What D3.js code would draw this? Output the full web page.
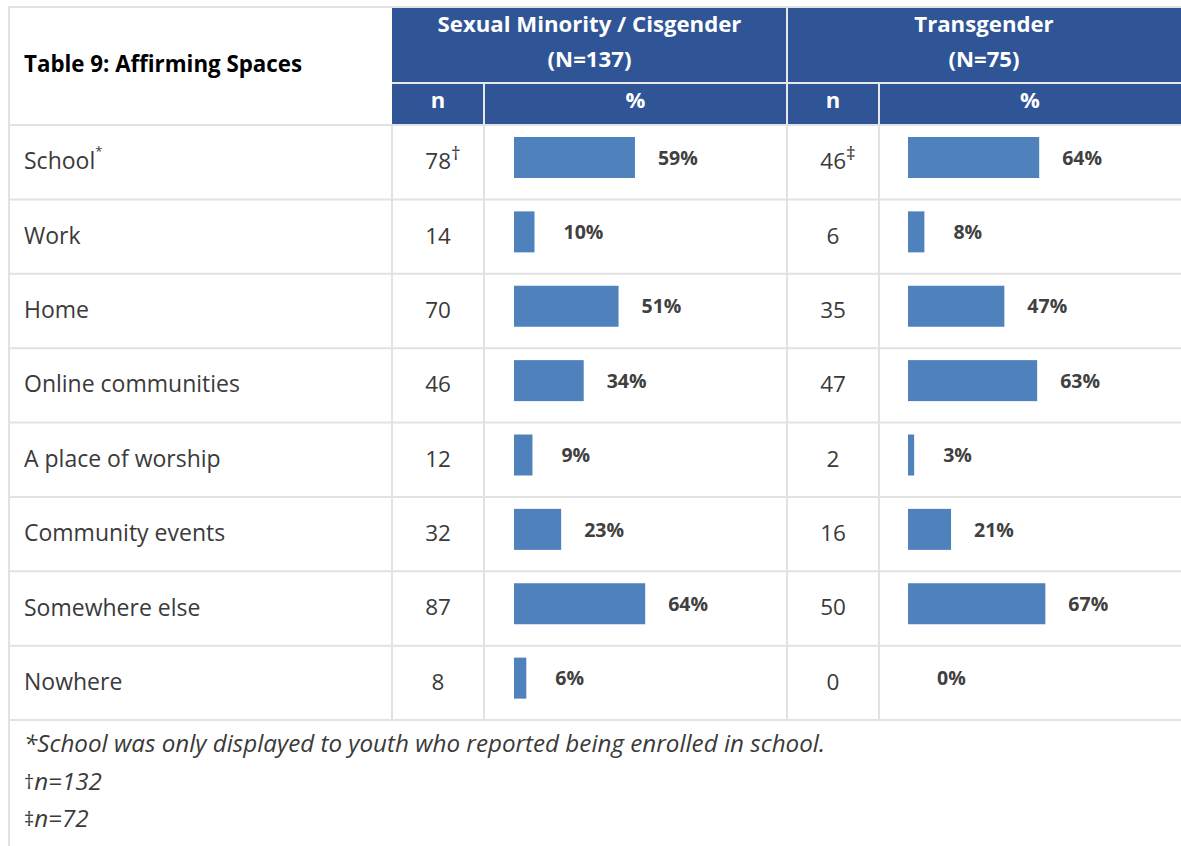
<!DOCTYPE html>
<html>
<head>
<meta charset="utf-8">
<script src="https://cdn.jsdelivr.net/npm/d3@7"></script>
<style>
  body { margin: 0; background: #fff; }
</style>
</head>
<body>
<div id="chart"></div>
<script>
// table values
const title = 'Table 9: Affirming Spaces';
const groups = ['Sexual Minority / Cisgender', 'Transgender'];
const groupN = ['(N=137)', '(N=75)'];
const spaces = ['School', 'Work', 'Home', 'Online communities', 'A place of worship', 'Community events', 'Somewhere else', 'Nowhere'];
const spaceMarks = ['*', '', '', '', '', '', '', ''];
const smN = [78, 14, 70, 46, 12, 32, 87, 8];
const smMarks = ['†', '', '', '', '', '', '', ''];
const smPct = [59, 10, 51, 34, 9, 23, 64, 6];
const tgN = [46, 6, 35, 47, 2, 16, 50, 0];
const tgMarks = ['‡', '', '', '', '', '', '', ''];
const tgPct = [64, 8, 47, 63, 3, 21, 67, 0];
const noteMarks = ['', '†', '‡'];
const notes = ['*School was only displayed to youth who reported being enrolled in school.', 'n=132', 'n=72'];

const W = 1181, H = 846;
const font = 'Open Sans';
const blue = '#2f5597';
const barBlue = '#4f81bd';
const grid = '#e2e2e2';
const textCol = '#3a3a3a';

// column edges
const cols = [9, 392, 484, 787, 879, 1181];
const topY = 8, head1 = 83, head2 = 125, bodyEnd = 720;

const svg = d3.select('#chart')
    .append('svg')
    .attr('width', W)
    .attr('height', H);

const y = d3.scaleBand()
    .domain(spaces)
    .range([head2, bodyEnd]);

const x = d3.scaleLinear()
    .domain([0, 100])
    .range([0, 205]);

// header cells
svg.append('rect')
    .attr('x', cols[1]).attr('y', topY)
    .attr('width', W - cols[1]).attr('height', head2 - topY)
    .attr('fill', blue);

// header separators
svg.append('line')
    .attr('x1', cols[1]).attr('x2', W)
    .attr('y1', head1).attr('y2', head1)
    .attr('stroke', '#e8e8e8').attr('stroke-width', 2);
[cols[3]].forEach(c => {
    svg.append('line')
        .attr('x1', c).attr('x2', c)
        .attr('y1', topY).attr('y2', head2)
        .attr('stroke', '#e8e8e8').attr('stroke-width', 2);
});
[cols[2], cols[4]].forEach(c => {
    svg.append('line')
        .attr('x1', c).attr('x2', c)
        .attr('y1', head1).attr('y2', head2)
        .attr('stroke', '#e8e8e8').attr('stroke-width', 2);
});

// grid lines
svg.append('line')
    .attr('x1', cols[0]).attr('x2', W)
    .attr('y1', topY - 1).attr('y2', topY - 1)
    .attr('stroke', grid).attr('stroke-width', 2);
svg.append('line')
    .attr('x1', cols[0]).attr('x2', cols[0])
    .attr('y1', topY - 2).attr('y2', H)
    .attr('stroke', grid).attr('stroke-width', 2);

const hLines = [head2].concat(spaces.map(d => y(d) + y.bandwidth()));
hLines.forEach(v => {
    svg.append('line')
        .attr('x1', cols[0]).attr('x2', W)
        .attr('y1', v).attr('y2', v)
        .attr('stroke', grid).attr('stroke-width', 2);
});
cols.slice(1, 5).forEach(c => {
    svg.append('line')
        .attr('x1', c).attr('x2', c)
        .attr('y1', head2).attr('y2', bodyEnd)
        .attr('stroke', grid).attr('stroke-width', 2);
});

// header texts
svg.append('text')
    .attr('x', 24)
    .attr('y', 66)
    .attr('dominant-baseline', 'middle')
    .attr('font-family', font)
    .attr('font-weight', 'bold')
    .attr('font-size', '22.3px')
    .attr('fill', '#000')
    .text(title);

groups.forEach((g, i) => {
    const cx = (cols[1 + i * 2] + cols[3 + i * 2]) / 2;
    svg.append('text')
        .attr('x', cx).attr('y', 26)
        .attr('text-anchor', 'middle')
        .attr('dominant-baseline', 'middle')
        .attr('font-family', font).attr('font-weight', 'bold')
        .attr('font-size', '22.2px').attr('fill', '#fff')
        .text(g);
    svg.append('text')
        .attr('x', cx).attr('y', 61)
        .attr('text-anchor', 'middle')
        .attr('dominant-baseline', 'middle')
        .attr('font-family', font).attr('font-weight', 'bold')
        .attr('font-size', '22.2px').attr('fill', '#fff')
        .text(groupN[i]);
    svg.append('text')
        .attr('x', (cols[1 + i * 2] + cols[2 + i * 2]) / 2).attr('y', 102)
        .attr('text-anchor', 'middle')
        .attr('dominant-baseline', 'middle')
        .attr('font-family', font).attr('font-weight', 'bold')
        .attr('font-size', '22px').attr('fill', '#fff')
        .text('n');
    svg.append('text')
        .attr('x', (cols[2 + i * 2] + cols[3 + i * 2]) / 2).attr('y', 102)
        .attr('text-anchor', 'middle')
        .attr('dominant-baseline', 'middle')
        .attr('font-family', font).attr('font-weight', 'bold')
        .attr('font-size', '22px').attr('fill', '#fff')
        .text('%');
});

// row labels
const labels = svg.selectAll('.space')
    .data(spaces)
    .enter()
    .append('text')
    .attr('class', 'space')
    .attr('x', 24)
    .attr('y', d => y(d) + y.bandwidth() / 2 + 1)
    .attr('dominant-baseline', 'middle')
    .attr('font-family', font)
    .attr('font-size', '23px')
    .attr('fill', textCol)
    .text(d => d);
labels.append('tspan')
    .attr('dy', -10)
    .attr('font-size', '13px')
    .text((d, i) => spaceMarks[i]);

// n and bar columns
const series = [
    { n: smN, marks: smMarks, pct: smPct, nx: (cols[1] + cols[2]) / 2, bx: 514 },
    { n: tgN, marks: tgMarks, pct: tgPct, nx: (cols[3] + cols[4]) / 2, bx: 908 }
];

series.forEach(s => {
    const nt = svg.selectAll(null)
        .data(spaces)
        .enter()
        .append('text')
        .attr('x', (d, i) => s.nx + (s.marks[i] ? 5 : 0))
        .attr('y', d => y(d) + y.bandwidth() / 2 + 1)
        .attr('text-anchor', 'middle')
        .attr('dominant-baseline', 'middle')
        .attr('font-family', font)
        .attr('font-size', '22.5px')
        .attr('fill', textCol)
        .text((d, i) => s.n[i]);
    nt.append('tspan')
        .attr('dy', -8)
        .attr('font-size', '19px')
        .text((d, i) => s.marks[i]);

    svg.selectAll(null)
        .data(spaces)
        .enter()
        .append('rect')
        .attr('x', s.bx)
        .attr('y', d => y(d) + 12)
        .attr('width', (d, i) => x(s.pct[i]))
        .attr('height', 41)
        .attr('fill', barBlue);

    svg.selectAll(null)
        .data(spaces)
        .enter()
        .append('text')
        .attr('x', (d, i) => s.bx + x(s.pct[i]) + (s.pct[i] < 15 ? 29 : 23))
        .attr('y', d => y(d) + 34.5)
        .attr('dominant-baseline', 'middle')
        .attr('font-family', font)
        .attr('font-weight', 'bold')
        .attr('font-size', '19.5px')
        .attr('fill', '#404040')
        .text((d, i) => s.pct[i] + '%');
});

// footnotes
const nts = svg.selectAll('.note')
    .data(notes)
    .enter()
    .append('text')
    .attr('class', 'note')
    .attr('x', 24)
    .attr('y', (d, i) => 746 + i * 37.5)
    .attr('dominant-baseline', 'middle')
    .attr('font-family', font)
    .attr('font-size', '24.2px')
    .attr('fill', textCol);
nts.append('tspan')
    .attr('font-size', '20px')
    .text((d, i) => noteMarks[i]);
nts.append('tspan')
    .attr('font-style', 'italic')
    .text(d => d);
</script>
</body>
</html>
